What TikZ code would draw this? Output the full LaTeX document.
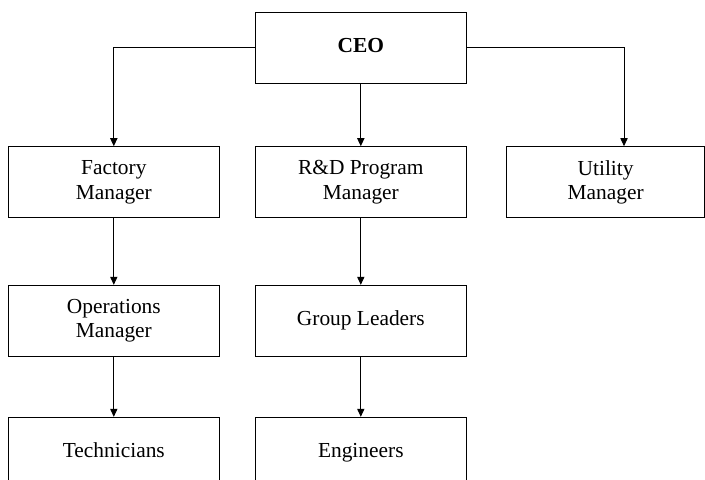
\documentclass[tikz,border=0pt]{standalone}
\usepackage{fontspec}
\setmainfont{Liberation Serif}
\usetikzlibrary{arrows.meta, positioning}

\begin{document}
\begin{tikzpicture}[node distance=31pt and 17.5pt,
  every node/.style={draw, line width=0.5pt, minimum width=105.5pt, minimum height=35.5pt, align=center, font=\fontsize{10.7}{12.2}\selectfont, inner sep=2pt},
  oneline/.style={text height=7.2pt, text depth=2.4pt},
  link/.style={line width=0.5pt, -{Triangle[length=4pt, width=3.6pt]}}]
  \clip (0,0) rectangle (352.5pt,-239.5pt);
  \node (ceo) [oneline] at (180.4pt,-23.9pt) {\textbf{CEO}};
  \node (rd) [below=31.2pt of ceo] {R\&D Program\\Manager};
  \node (factory) [left=17.5pt of rd] {Factory\\Manager};
  \node (utility) [right=19.5pt of rd, minimum width=99.3pt] {Utility\\Manager};
  \node (groups) [oneline, below=33.3pt of rd] {Group Leaders};
  \node (ops) [left=17.5pt of groups] {Operations\\Manager};
  \node (eng) [oneline, below=30pt of groups] {Engineers};
  \node (tech) [oneline, left=17.5pt of eng] {Technicians};
  \draw[link] (ceo.west) -| (factory.north);
  \draw[link] (ceo) -- (rd);
  \draw[link] (ceo.east) -| ([xshift=9.2pt]utility.north);
  \draw[link] (factory) -- (ops);
  \draw[link] (ops) -- (tech);
  \draw[link] (rd) -- (groups);
  \draw[link] (groups) -- (eng);
\end{tikzpicture}
\end{document}
